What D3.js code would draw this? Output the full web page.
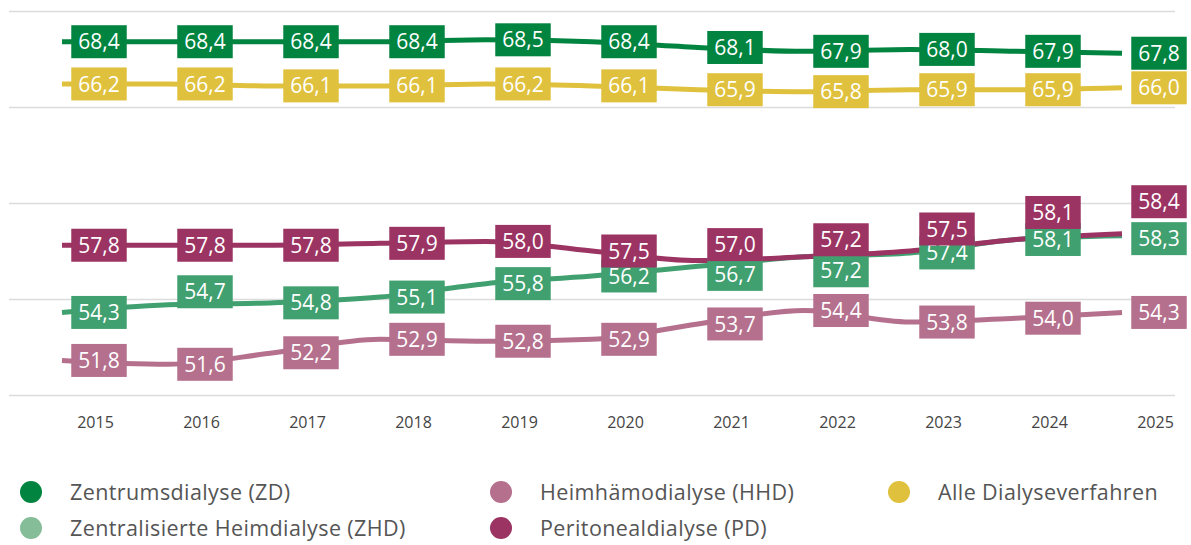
<!DOCTYPE html>
<html>
<head>
<meta charset="utf-8">
<script src="https://cdn.jsdelivr.net/npm/d3@7/dist/d3.min.js"></script>
<style>
  html, body { margin: 0; padding: 0; background: #fff; }
  svg { display: block; font-family: 'Open Sans', Lato, sans-serif; }
</style>
</head>
<body>
<div id="chart"></div>
<script>
// Daten
const years = [2015, 2016, 2017, 2018, 2019, 2020, 2021, 2022, 2023, 2024, 2025];
const zd   = [68.4, 68.4, 68.4, 68.4, 68.5, 68.4, 68.1, 67.9, 68.0, 67.9, 67.8];
const alle = [66.2, 66.2, 66.1, 66.1, 66.2, 66.1, 65.9, 65.8, 65.9, 65.9, 66.0];
const pd   = [57.8, 57.8, 57.8, 57.9, 58.0, 57.5, 57.0, 57.2, 57.5, 58.1, 58.4];
const zhd  = [54.3, 54.7, 54.8, 55.1, 55.8, 56.2, 56.7, 57.2, 57.4, 58.1, 58.3];
const hhd  = [51.8, 51.6, 52.2, 52.9, 52.8, 52.9, 53.7, 54.4, 53.8, 54.0, 54.3];
const gridValues = [50, 55, 60, 65, 70];

const series = [
  { key: 'ZD',   name: 'Zentrumsdialyse (ZD)',               values: zd,   color: '#00843f', legend: '#00843f' },
  { key: 'ALLE', name: 'Alle Dialyseverfahren',               values: alle, color: '#dfc13d', legend: '#dfc13d' },
  { key: 'HHD',  name: 'Heimhämodialyse (HHD)',               values: hhd,  color: '#b5708e', legend: '#b5708e' },
  { key: 'ZHD',  name: 'Zentralisierte Heimdialyse (ZHD)',    values: zhd,  color: '#40a070', legend: '#85bd98' },
  { key: 'PD',   name: 'Peritonealdialyse (PD)',              values: pd,   color: '#9c3463', legend: '#9c3463' }
];

// manual label nudges (px) where labels would collide
const labelNudge = {
  ZHD: { 2016: -13, 2021: 8, 2022: 14, 2025: 3 },
  PD:  { 2021: -16, 2022: -17, 2023: -22, 2024: -27, 2025: -32 }
};

const config = {
  width: 1191,
  height: 545,
  lineLeft: 62,
  lineRight: 1122,
  tickShift: 33,
  top: 11,
  bottom: 395,
  gridLeft: 9,
  gridRight: 1175
};

const fmt = d3.formatLocale({ decimal: ',', thousands: '.', grouping: [3], currency: ['', ' €'] }).format('.1f');

const svg = d3.select('#chart').append('svg')
  .attr('width', config.width)
  .attr('height', config.height);

const xScale = d3.scalePoint()
  .domain(years)
  .range([config.lineLeft, config.lineRight]);

const yScale = d3.scaleLinear()
  .domain([50, 70])
  .range([config.bottom, config.top]);

// Gitterlinien
svg.append('g')
  .attr('class', 'grid')
  .attr('transform', `translate(${config.gridRight}, 0)`)
  .call(d3.axisLeft(yScale).tickValues(gridValues).tickSize(config.gridRight - config.gridLeft).tickFormat(''))
  .call(g => g.select('.domain').remove())
  .call(g => g.selectAll('line').attr('stroke', '#dcdcdc').attr('stroke-width', 1.5));

// x-Achse
svg.append('g')
  .attr('class', 'x axis')
  .attr('transform', `translate(${config.tickShift}, ${config.bottom})`)
  .call(d3.axisBottom(xScale).tickSize(0).tickPadding(22))
  .call(g => g.select('.domain').remove())
  .call(g => g.selectAll('text')
    .attr('font-size', 16)
    .attr('fill', '#444')
    .attr('font-family', "'Open Sans', sans-serif"));

// Linien
const line = d3.line()
  .x((d, i) => xScale(years[i]))
  .y(d => yScale(d))
  .curve(d3.curveMonotoneX);

const lineOrder = ['ZD', 'ALLE', 'HHD', 'ZHD', 'PD'];
svg.append('g').attr('class', 'lines')
  .selectAll('path')
  .data(lineOrder.map(k => series.find(s => s.key === k)))
  .enter()
  .append('path')
  .attr('d', d => line(d.values))
  .attr('fill', 'none')
  .attr('stroke', d => d.color)
  .attr('stroke-width', 5);

// Beschriftungen
const labelLayer = svg.append('g').attr('class', 'labels');
series.forEach(s => {
  const g = labelLayer.append('g').attr('class', 'label-' + s.key);
  const items = g.selectAll('g')
    .data(s.values.map((v, i) => ({ v: v, year: years[i] })))
    .enter()
    .append('g')
    .attr('transform', d => {
      const dy = (labelNudge[s.key] && labelNudge[s.key][d.year]) || 0;
      return `translate(${xScale(d.year) + 37}, ${yScale(d.v) + dy})`;
    });

  items.append('rect').attr('fill', s.color);
  const texts = items.append('text')
    .text(d => fmt(d.v))
    .attr('text-anchor', 'middle')
    .attr('dy', '0.36em')
    .attr('font-size', 21)
    .attr('fill', '#fff');

  texts.each(function () {
    const w = this.getComputedTextLength();
    d3.select(this.parentNode).select('rect')
      .attr('x', -w / 2 - 7)
      .attr('y', -16.5)
      .attr('width', w + 14)
      .attr('height', 33);
  });
});

// Legende
const legendItems = [
  { key: 'ZD',   x: 31,  y: 492 },
  { key: 'ZHD',  x: 31,  y: 528 },
  { key: 'HHD',  x: 501, y: 492 },
  { key: 'PD',   x: 501, y: 528 },
  { key: 'ALLE', x: 899, y: 492 }
];
const legend = svg.append('g').attr('class', 'legend');
legendItems.forEach(item => {
  const s = series.find(d => d.key === item.key);
  const g = legend.append('g').attr('transform', `translate(${item.x}, ${item.y})`);
  g.append('circle').attr('r', 11).attr('fill', s.legend);
  g.append('text')
    .text(s.name)
    .attr('x', 39)
    .attr('dy', '0.35em')
    .attr('font-size', 21.5)
    .attr('letter-spacing', 0.4)
    .attr('fill', '#555');
});
</script>
</body>
</html>
